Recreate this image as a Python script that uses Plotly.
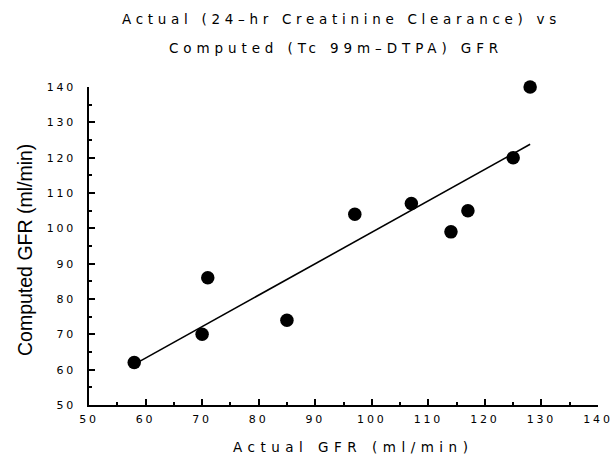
import plotly.graph_objects as go

actual_gfr = [58, 70, 71, 85, 97, 107, 114, 117, 125, 128]
computed_gfr = [62, 70, 86, 74, 104, 107, 99, 105, 120, 140]
fit_x = [58, 128]
fit_y = [61.5, 123.8]
tick_vals = [50, 60, 70, 80, 90, 100, 110, 120, 130, 140]

title_line1 = "Actual (24–hr Creatinine Clearance) vs"
title_line2 = "Computed (Tc 99m–DTPA) GFR"
x_title = "Actual GFR (ml/min)"
y_title = "Computed GFR (ml/min)"

FONT = "DejaVu Sans"

def spaced(s, px):
    return f'<span style="letter-spacing:{px}px">{s}</span>'

tick_text = [spaced(str(v), 2.8) for v in tick_vals]

L, R, T, B = 89, 17, 87, 53
W, H = 615, 458
plot_h = H - T - B
plot_w = W - L - R

def px_x(p):
    return (p - L) / plot_w

def px_y(p):
    return (H - B - p) / plot_h

fig = go.Figure()
fig.add_trace(go.Scatter(x=fit_x, y=fit_y, mode="lines",
                         line=dict(color="black", width=1.6), showlegend=False,
                         cliponaxis=False))
fig.add_trace(go.Scatter(x=actual_gfr, y=computed_gfr, mode="markers",
                         marker=dict(color="black", size=13.5, symbol="circle"),
                         showlegend=False, cliponaxis=False))

axis_common = dict(
    showline=True, linecolor="black", linewidth=1.5,
    ticks="inside", ticklen=6, tickwidth=1.5, tickcolor="black",
    showgrid=False, zeroline=False, automargin=False,
    tickvals=tick_vals, ticktext=tick_text,
    tickfont=dict(family=FONT, size=11, color="black"),
    minor=dict(dtick=5, tick0=0, ticks="inside", ticklen=3, tickwidth=1.5, tickcolor="black"),
    range=[50, 140],
)

fig.update_layout(
    width=W, height=H,
    margin=dict(l=L, r=R, t=T, b=B, autoexpand=False),
    paper_bgcolor="white", plot_bgcolor="white",
    xaxis=dict(**axis_common, ticklabelstandoff=3),
    yaxis=dict(**axis_common, ticklabelstandoff=9),
)

fig.add_annotation(text=spaced(title_line1, 4.7), xref="paper", yref="paper",
                   x=px_x(341), y=px_y(19), showarrow=False,
                   xanchor="center", yanchor="middle",
                   font=dict(family=FONT, size=13.5, color="black"))
fig.add_annotation(text=spaced(title_line2, 4.9), xref="paper", yref="paper",
                   x=px_x(336), y=px_y(48), showarrow=False,
                   xanchor="center", yanchor="middle",
                   font=dict(family=FONT, size=13.5, color="black"))
fig.add_annotation(text=spaced(x_title, 5.5), xref="paper", yref="paper",
                   x=px_x(353), y=px_y(447), showarrow=False,
                   xanchor="center", yanchor="middle",
                   font=dict(family=FONT, size=13.5, color="black"))
fig.add_annotation(text=y_title, xref="paper", yref="paper",
                   x=px_x(25), y=px_y(250), showarrow=False, textangle=-90,
                   xanchor="center", yanchor="middle",
                   font=dict(family="Liberation Sans", size=19.5, color="black"))

fig.write_html("out.html", config={"displayModeBar": False},
               post_script="document.body.style.margin='0';document.body.style.padding='0';")
